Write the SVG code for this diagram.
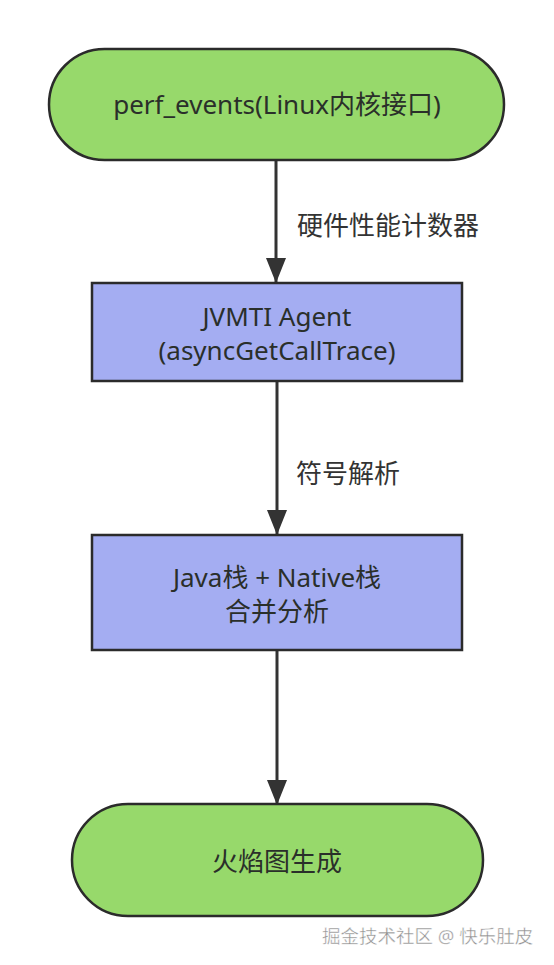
<svg xmlns="http://www.w3.org/2000/svg" width="554" height="965" viewBox="0 0 554 965">
<style>
.t{font-family:"Noto Sans","Noto Sans CJK SC",sans-serif;font-size:26px;fill:#2a2f2a;text-anchor:middle;dominant-baseline:central}
.green{fill:#97d96b;stroke:#2b2b2b;stroke-width:2.5}
.blue{fill:#a4adf2;stroke:#2b2b2b;stroke-width:2.5}
.edge{stroke:#333;stroke-width:3;fill:none}
.lbl{font-family:"Noto Sans","Noto Sans CJK SC",sans-serif;font-size:26px;fill:#333;dominant-baseline:central}
.wm{font-family:"Noto Sans","Noto Sans CJK SC",sans-serif;font-size:18.5px;fill:#8f8f8f;stroke:#fff;stroke-width:0.4;dominant-baseline:central}
</style>
<defs>
<marker id="ar" viewBox="0 0 26 20" refX="25" refY="10" markerWidth="26" markerHeight="20" markerUnits="userSpaceOnUse" orient="auto">
<path d="M0,0 L25,10 L0,20 Z" fill="#333"/>
</marker>
</defs>
<g id="connectors">
<line class="edge" x1="276" y1="160" x2="276" y2="283" marker-end="url(#ar)"/>
<line class="edge" x1="277" y1="381" x2="277" y2="535" marker-end="url(#ar)"/>
<line class="edge" x1="277" y1="650" x2="277" y2="805" marker-end="url(#ar)"/>
<text class="lbl" x="297" y="225">硬件性能计数器</text>
<text class="lbl" x="296" y="473">符号解析</text>
</g>
<g id="n1">
<rect class="green" x="49" y="49" width="455" height="111" rx="55.5"/>
<text class="t" x="277" y="104">perf_events(Linux内核接口)</text>
</g>
<g id="n2">
<rect class="blue" x="92" y="283" width="370" height="98"/>
<text class="t" x="277" y="316">JVMTI Agent</text>
<text class="t" x="277" y="350">(asyncGetCallTrace)</text>
</g>
<g id="n3">
<rect class="blue" x="92" y="535" width="370" height="115"/>
<text class="t" x="277" y="577">Java栈 + Native栈</text>
<text class="t" x="277" y="611">合并分析</text>
</g>
<g id="n4">
<rect class="green" x="72" y="804" width="411" height="112" rx="56"/>
<text class="t" x="277" y="861">火焰图生成</text>
</g>
<text class="wm" x="322" y="935">掘金技术社区 @ 快乐肚皮</text>
</svg>
